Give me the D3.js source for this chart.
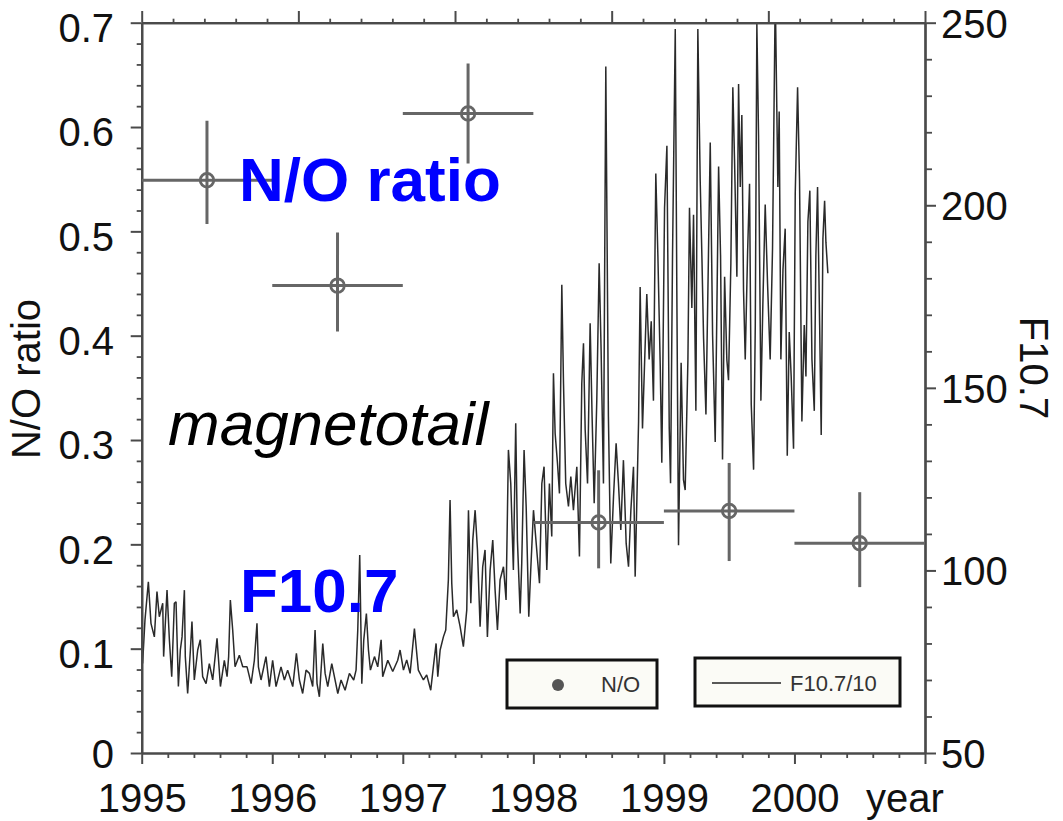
<!DOCTYPE html>
<html><head><meta charset="utf-8">
<script src="https://cdn.jsdelivr.net/npm/d3@7"></script>
<style>
body{margin:0;background:#fff}
svg{display:block}
text{font-family:"Liberation Sans",Arial,Helvetica,sans-serif}
</style>
</head><body>
<svg id="chart" width="1063" height="821"></svg>
<script>
// ---------------- data ----------------
const yearTicks = [1995, 1996, 1997, 1998, 1999, 2000];
const yearAxisLabel = "year";
const leftTicks = [0, 0.1, 0.2, 0.3, 0.4, 0.5, 0.6, 0.7];
const rightTicks = [50, 100, 150, 200, 250];
const leftTitle = "N/O ratio";
const rightTitle = "F10.7";

// N/O ratio points (magnetotail) with error bars
const noYear   = [1995.5, 1996.5, 1997.5, 1998.5, 1999.5, 2000.5];
const noYearLo = [1995.0, 1996.0, 1997.0, 1998.0, 1999.0, 2000.0];
const noYearHi = [1996.0, 1997.0, 1998.0, 1999.0, 2000.0, 2001.0];
const noRatio  = [0.549, 0.448, 0.613, 0.221, 0.232, 0.201];
const noLow    = [0.507, 0.404, 0.565, 0.177, 0.184, 0.159];
const noHigh   = [0.606, 0.499, 0.661, 0.271, 0.278, 0.250];

// F10.7 solar flux (sfu)
const f107Dates = [
1995.007,1995.025,1995.051,1995.071,1995.097,1995.117,1995.135,1995.161,1995.168,1995.194,
1995.212,1995.230,1995.250,1995.263,1995.281,1995.296,1995.309,1995.327,1995.334,1995.352,
1995.373,1995.385,1995.403,1995.429,1995.449,1995.467,1995.493,1995.518,1995.544,1995.577,
1995.603,1995.633,1995.654,1995.666,1995.679,1995.697,1995.715,1995.748,1995.774,1995.807,
1995.838,1995.863,1995.883,1995.894,1995.914,1995.952,1995.978,1996.003,1996.029,1996.067,
1996.093,1996.118,1996.157,1996.185,1996.208,1996.233,1996.259,1996.285,1996.310,1996.328,
1996.343,1996.361,1996.387,1996.405,1996.425,1996.456,1996.476,1996.502,1996.527,1996.558,
1996.591,1996.624,1996.642,1996.655,1996.670,1996.686,1996.701,1996.721,1996.737,1996.752,
1996.783,1996.808,1996.834,1996.846,1996.885,1996.923,1996.961,
1996.979,1997.005,1997.030,1997.056,1997.089,1997.119,1997.158,1997.183,1997.214,1997.234,
1997.255,1997.268,1997.286,1997.311,1997.329,1997.349,1997.362,1997.375,1997.388,1997.413,
1997.439,1997.464,1997.490,1997.503,1997.521,1997.536,1997.554,1997.572,1997.592,1997.612,
1997.630,1997.648,1997.669,1997.689,1997.707,1997.725,1997.745,1997.771,1997.791,1997.809,
1997.827,1997.847,1997.865,1997.878,1997.899,1997.911,1997.929,1997.945,1997.965,1997.980,
1998.001,1998.026,1998.047,1998.065,1998.082,1998.103,1998.123,1998.141,1998.154,1998.167,
1998.185,1998.200,1998.218,1998.231,1998.248,1998.269,1998.287,1998.307,1998.333,1998.353,
1998.371,1998.384,1998.397,1998.415,1998.435,1998.450,1998.466,1998.486,1998.504,1998.519,
1998.537,1998.555,1998.575,1998.593,1998.614,1998.634,1998.652,1998.670,1998.690,1998.711,
1998.729,1998.747,1998.767,1998.780,
1998.806,1998.818,1998.836,1998.869,1998.887,1998.903,1998.920,1998.938,1998.954,1998.972,
1998.984,1999.005,1999.023,1999.041,1999.051,1999.066,1999.087,1999.099,1999.112,1999.132,
1999.150,1999.163,1999.184,1999.196,1999.214,1999.227,1999.245,1999.260,1999.278,1999.291,
1999.304,1999.322,1999.337,1999.355,1999.373,1999.393,1999.406,1999.419,1999.434,1999.449,
1999.465,1999.482,1999.495,1999.513,1999.528,1999.541,1999.559,1999.572,1999.585,1999.597,
1999.610,1999.623,1999.641,1999.656,1999.669,1999.687,1999.700,1999.712,1999.725,1999.743,
1999.758,1999.776,1999.794,1999.814,1999.832,1999.853,1999.873,1999.883,1999.896,1999.912,
1999.929,1999.945,1999.960,1999.975,1999.993,2000.006,2000.024,2000.039,2000.057,2000.075,
2000.088,2000.103,2000.118,2000.134,2000.152,2000.164,2000.177,2000.193,2000.205,2000.218,
2000.231,2000.241,2000.256
];
const f107Values = [
74.5,86.4,96.9,85.5,81.8,94.2,87.3,91.0,76.4,94.6,
81.0,70.9,91.0,91.4,68.2,78.2,81.8,94.6,76.4,66.3,
78.2,86.0,70.0,78.2,81.0,70.9,69.0,74.5,70.0,81.4,
68.2,75.4,70.9,76.4,91.9,83.7,73.6,76.8,73.6,73.6,
69.0,75.4,85.5,73.6,70.0,76.4,68.2,75.4,68.2,73.6,
70.0,72.7,68.2,77.3,70.0,66.3,72.7,71.8,68.2,83.7,
69.0,65.4,80.0,71.8,68.2,74.5,70.9,66.3,70.0,67.2,
71.8,70.0,72.7,83.7,104.2,69.0,81.0,88.2,78.2,72.7,
76.4,73.6,81.0,70.9,75.4,72.3,75.4,
78.2,72.7,75.5,71.8,84.1,72.7,70.0,71.4,67.2,73.6,
80.0,70.9,78.2,81.8,83.7,97.4,119.3,96.5,87.3,89.2,
84.6,79.1,89.2,116.5,91.0,108.3,116.5,105.6,84.6,101.0,
105.6,81.8,100.1,108.3,94.6,83.7,97.4,101.0,91.9,133.0,
123.8,100.1,140.3,108.3,88.2,101.9,133.0,117.5,87.3,100.1,
116.5,105.6,96.5,123.8,128.4,100.1,123.8,109.3,154.0,137.5,
129.3,121.1,178.2,151.2,123.8,117.5,125.7,116.5,128.4,103.8,
151.2,162.2,138.5,123.8,167.7,142.1,118.4,146.7,184.1,160.4,
123.8,238.0,142.1,101.9,120.2,134.8,123.8,111.1,130.2,107.4,
101.0,116.5,128.4,98.3,
140.8,177.6,138.9,175.7,157.8,168.2,146.5,208.7,186.1,155.9,
129.5,199.3,216.3,138.9,123.9,186.1,248.3,176.7,106.9,156.9,
124.8,122.0,157.8,199.3,171.9,197.4,143.7,248.3,206.8,186.1,
163.5,142.7,176.7,217.2,164.4,135.2,171.9,210.6,186.1,130.4,
180.4,157.8,152.1,184.2,232.3,212.5,180.4,233.2,205.0,224.7,
176.7,157.8,187.0,205.9,145.5,127.6,167.2,249.7,219.1,146.5,
172.9,200.2,178.5,157.8,188.0,258.0,205.0,225.7,157.8,182.3,
193.6,131.4,165.3,153.1,133.3,203.1,232.3,206.8,140.8,167.2,
153.1,195.5,204.0,157.8,143.7,186.1,205.0,167.2,137.1,190.8,
201.2,189.9,181.4
];

const legendItems = ["N/O", "F10.7/10"];
const annotations = ["N/O ratio", "F10.7", "magnetotail"];

// ---------------- drawing ----------------
const svg = d3.select("#chart");
svg.append("rect").attr("width",1063).attr("height",821).attr("fill","#fff");

const plot = {left:141.7, right:925, top:22.7, bottom:753};
const x = d3.scaleLinear().domain([1995, 2001]).range([plot.left, plot.right]);
const yL = d3.scaleLinear().domain([0, 0.7]).range([plot.bottom, plot.top]);
const yR = d3.scaleLinear().domain([50, 250]).range([plot.bottom, plot.top]);
const xTop = d3.scaleLinear().domain([0, 5]).range([plot.left, plot.right]);

const axisColor = "#4a4a4a";
function styleAxis(g, w) {
  g.select(".domain").attr("stroke", axisColor).attr("stroke-width", 2.2);
  g.selectAll(".tick line").attr("stroke", axisColor).attr("stroke-width", w);
  g.selectAll(".tick text").attr("fill", "#111").style("font-size", "40px")
    .style("font-family", '"Liberation Sans", Arial, sans-serif');
}

// clip
svg.append("clipPath").attr("id","clip").append("rect")
  .attr("x", plot.left).attr("y", plot.top)
  .attr("width", plot.right - plot.left).attr("height", plot.bottom - plot.top);

// F10.7 line
const pts = f107Dates.map((d, i) => [d, f107Values[i]]);
const line = d3.line().x(d => x(d[0])).y(d => yR(d[1]));
svg.append("path").datum(pts)
  .attr("clip-path", "url(#clip)")
  .attr("d", line)
  .attr("fill", "none").attr("stroke", "#2a2a2a").attr("stroke-width", 1.5)
  .attr("stroke-linejoin", "bevel");

// minor ticks
const minorLeft = d3.range(0, 0.7001, 0.02).filter(v => Math.abs(v*10 - Math.round(v*10)) > 1e-6);
const minorRight = d3.range(50, 251, 10).filter(v => v % 50 !== 0);
const minorYear = d3.range(1995, 2001.0001, 0.2).filter(v => Math.abs(v - Math.round(v)) > 1e-6);
const minorTop = d3.range(0, 5.0001, 0.2).filter(v => Math.abs(v - Math.round(v)) > 1e-6);

const gLm = svg.append("g").attr("transform", `translate(${plot.left},0)`)
  .call(d3.axisLeft(yL).tickValues(minorLeft).tickSize(5).tickSizeOuter(0).tickFormat(""));
styleAxis(gLm, 1.8);
const gRm = svg.append("g").attr("transform", `translate(${plot.right},0)`)
  .call(d3.axisRight(yR).tickValues(minorRight).tickSize(7).tickSizeOuter(0).tickFormat(""));
styleAxis(gRm, 1.8);
const gBm = svg.append("g").attr("transform", `translate(0,${plot.bottom})`)
  .call(d3.axisBottom(x).tickValues(minorYear).tickSize(5).tickSizeOuter(0).tickFormat(""));
styleAxis(gBm, 1.8);
const gTm = svg.append("g").attr("transform", `translate(0,${plot.top})`)
  .call(d3.axisTop(xTop).tickValues(minorTop).tickSize(4).tickSizeOuter(0).tickFormat(""));
styleAxis(gTm, 1.8);

// major axes
const gL = svg.append("g").attr("transform", `translate(${plot.left},0)`)
  .call(d3.axisLeft(yL).tickValues(leftTicks).tickSize(11).tickSizeOuter(0).tickPadding(16.7)
    .tickFormat(d => d === 0 ? "0" : d3.format(".1f")(d)));
styleAxis(gL, 2);
gL.selectAll(".tick text").attr("dy", d => d === 0 ? "0.36em" : "0.47em");

const gR = svg.append("g").attr("transform", `translate(${plot.right},0)`)
  .call(d3.axisRight(yR).tickValues(rightTicks).tickSize(11).tickSizeOuter(0).tickPadding(5));
styleAxis(gR, 2);
gR.selectAll(".tick text").attr("dy", "0.36em");

const gB = svg.append("g").attr("transform", `translate(0,${plot.bottom})`)
  .call(d3.axisBottom(x).tickValues(yearTicks.concat([2001])).tickSize(11).tickSizeOuter(0).tickPadding(19.5)
    .tickFormat(d => d === 2001 ? "" : String(d)));
styleAxis(gB, 2);

const gT = svg.append("g").attr("transform", `translate(0,${plot.top})`)
  .call(d3.axisTop(xTop).ticks(5).tickSize(11.7).tickSizeOuter(0).tickFormat(""));
styleAxis(gT, 2);

// "year" label
svg.append("text").attr("x", 866).attr("y", 812)
  .style("font-size", "40px").attr("fill", "#111").text(yearAxisLabel);

// axis titles
svg.append("text").attr("transform", "translate(40,379) rotate(-90)")
  .attr("text-anchor", "middle").style("font-size", "40px").attr("fill", "#111").text(leftTitle);
svg.append("text").attr("transform", "translate(1020,368) rotate(90)")
  .attr("text-anchor", "middle").style("font-size", "40px").attr("fill", "#111").text(rightTitle);

// N/O error bars and circles
const noG = svg.append("g").attr("clip-path", "url(#clip)");
const barColor = "#666";
noYear.forEach((yr, i) => {
  noG.append("line").attr("x1", x(noYearLo[i])).attr("x2", x(noYearHi[i]))
    .attr("y1", yL(noRatio[i])).attr("y2", yL(noRatio[i]))
    .attr("stroke", barColor).attr("stroke-width", 3);
  noG.append("line").attr("x1", x(yr)).attr("x2", x(yr))
    .attr("y1", yL(noLow[i])).attr("y2", yL(noHigh[i]))
    .attr("stroke", barColor).attr("stroke-width", 3);
  noG.append("circle").attr("cx", x(yr)).attr("cy", yL(noRatio[i])).attr("r", 6.8)
    .attr("fill", "none").attr("stroke", barColor).attr("stroke-width", 2.8);
});

// annotations
svg.append("text").attr("x", 239).attr("y", 201).style("font-size", "62px")
  .style("font-weight", "bold").attr("fill", "#0000ff").text(annotations[0]);
svg.append("text").attr("x", 240).attr("y", 612).style("font-size", "62px")
  .style("font-weight", "bold").attr("fill", "#0000ff").text(annotations[1]);
svg.append("text").attr("x", 168).attr("y", 445).style("font-size", "62px")
  .style("font-style", "italic").attr("fill", "#000").text(annotations[2]);

// legends
const leg1 = svg.append("g");
leg1.append("rect").attr("x", 507).attr("y", 660).attr("width", 150).attr("height", 48)
  .attr("fill", "#fbfbf6").attr("stroke", "#111").attr("stroke-width", 3);
leg1.append("circle").attr("cx", 558).attr("cy", 685).attr("r", 6).attr("fill", "#555");
leg1.append("text").attr("x", 601).attr("y", 692).style("font-size", "22px").attr("fill", "#333").text(legendItems[0]);

const leg2 = svg.append("g");
leg2.append("rect").attr("x", 695).attr("y", 658).attr("width", 205).attr("height", 48)
  .attr("fill", "#fbfbf6").attr("stroke", "#111").attr("stroke-width", 3);
leg2.append("line").attr("x1", 712).attr("x2", 781).attr("y1", 683).attr("y2", 683)
  .attr("stroke", "#222").attr("stroke-width", 1.5);
leg2.append("text").attr("x", 790).attr("y", 691).style("font-size", "22px").attr("fill", "#333").text(legendItems[1]);
</script>
</body></html>
